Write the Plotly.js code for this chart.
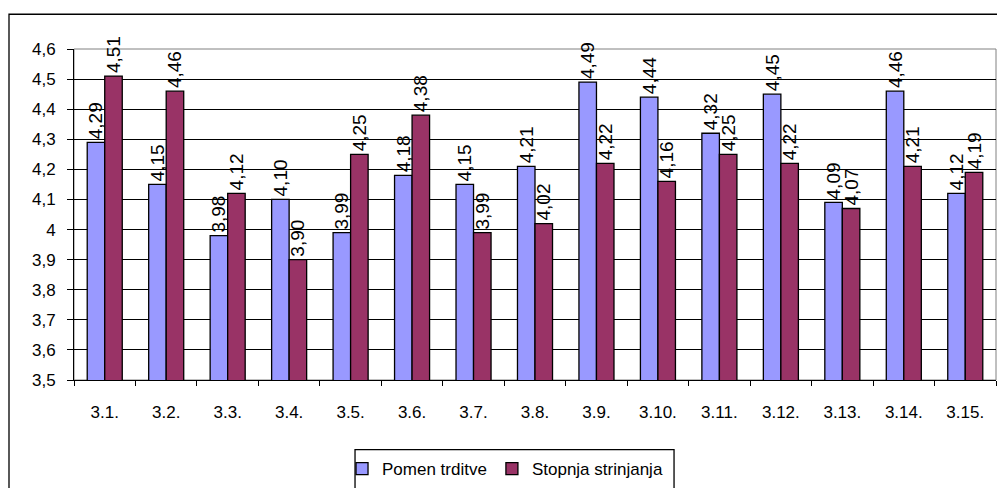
<!DOCTYPE html>
<html>
<head>
<meta charset="utf-8">
<script src="https://cdn.plot.ly/plotly-3.0.1.min.js"></script>
<style>
  html, body { margin: 0; padding: 0; background: #ffffff; }
  #chart { width: 997px; height: 488px; }
</style>
</head>
<body>
<div id="chart"></div>
<script>
// Item codes along the category axis
const categories = ['3.1.', '3.2.', '3.3.', '3.4.', '3.5.', '3.6.', '3.7.', '3.8.',
                    '3.9.', '3.10.', '3.11.', '3.12.', '3.13.', '3.14.', '3.15.'];

// Mean scores per item
const pomenTrditve = [4.29, 4.15, 3.98, 4.10, 3.99, 4.18, 4.15, 4.21,
                      4.49, 4.44, 4.32, 4.45, 4.09, 4.46, 4.12];
const stopnjaStrinjanja = [4.51, 4.46, 4.12, 3.90, 4.25, 4.38, 3.99, 4.02,
                           4.22, 4.16, 4.25, 4.22, 4.07, 4.21, 4.19];

const seriesNames = ['Pomen trditve', 'Stopnja strinjanja'];

const font = 'Arial, "Liberation Sans", sans-serif';

function barTrace(name, values, color) {
  return {
    type: 'bar',
    name: name,
    x: categories,
    y: values,
    marker: { color: color, line: { color: '#000000', width: 1.3 } },
    texttemplate: '%{y:.2f}',
    textposition: 'outside',
    textangle: -90,
    constraintext: 'none',
    cliponaxis: false,
    textfont: { family: font, size: 19, color: '#000000' },
    hoverinfo: 'x+y'
  };
}

const traces = [
  barTrace(seriesNames[0], pomenTrditve, '#9999FF'),
  barTrace(seriesNames[1], stopnjaStrinjanja, '#993366')
];

const layout = {
  width: 997,
  height: 488,
  margin: { l: 74, r: 1, t: 49, b: 106 },
  paper_bgcolor: '#ffffff',
  plot_bgcolor: '#ffffff',
  separators: ',.',
  barmode: 'group',
  bargap: 0.43,
  bargroupgap: 0,
  showlegend: true,
  legend: {
    orientation: 'h',
    x: 0.2907, xanchor: 'left',
    y: -0.215, yanchor: 'top',
    borderwidth: 0,
    bgcolor: 'rgba(0,0,0,0)',
    font: { family: font, size: 17, color: '#000000' },
    itemwidth: 30,
    tracegroupgap: 0
  },
  xaxis: {
    type: 'category',
    showline: true,
    linecolor: '#000000',
    linewidth: 1,
    ticks: 'outside',
    tickson: 'boundaries',
    ticklen: 5,
    tickcolor: '#000000',
    ticklabelstandoff: 17,
    showgrid: false,
    tickfont: { family: font, size: 17, color: '#000000' },
    fixedrange: true
  },
  yaxis: {
    range: [3.5, 4.6],
    dtick: 0.1,
    tick0: 3.5,
    showline: true,
    linecolor: '#000000',
    linewidth: 1,
    ticks: 'outside',
    ticklen: 6,
    tickcolor: '#000000',
    ticklabelstandoff: 8,
    showgrid: true,
    gridcolor: '#000000',
    gridwidth: 1,
    zeroline: false,
    tickfont: { family: font, size: 17, color: '#000000' },
    fixedrange: true
  },
  shapes: [
    // plot-area border (top and right edges)
    { type: 'rect', xref: 'paper', yref: 'paper', x0: 0, x1: 1, y0: 0, y1: 1,
      line: { color: '#808080', width: 1 }, layer: 'below' },
    // outer chart frame
    { type: 'rect', xref: 'paper', yref: 'paper', x0: -0.0705, x1: 1.01, y0: -0.33, y1: 1.105,
      line: { color: '#000000', width: 1.3 } },
    // legend frame
    { type: 'rect', xref: 'paper', yref: 'paper', x0: 0.3048, x1: 0.6508, y0: -0.34, y1: -0.2105,
      line: { color: '#000000', width: 1.3 } }
  ]
};

Plotly.newPlot('chart', traces, layout, { displayModeBar: false, staticPlot: true });
</script>
</body>
</html>
